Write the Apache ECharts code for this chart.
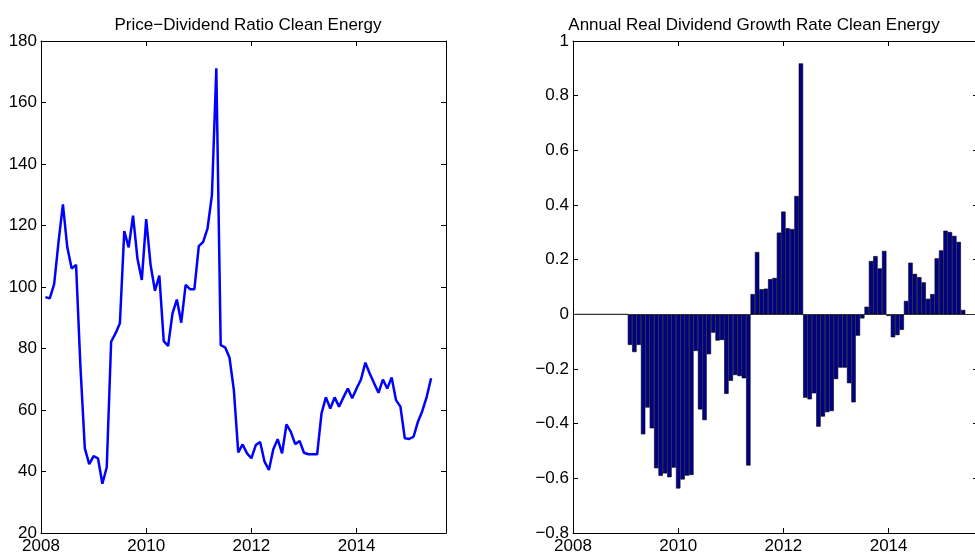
<!DOCTYPE html>
<html>
<head>
<meta charset="UTF-8">
<title>Clean Energy</title>
<script src="https://cdn.jsdelivr.net/npm/echarts@6/dist/echarts.min.js"></script>
<style>
  html, body { margin: 0; padding: 0; background: #fff; }
  #main { width: 975px; height: 556px; }
</style>
</head>
<body>
<div id="main"></div>
<script>
// monthly observations, first one at 2008 + 1/12
var firstYear = 2008;
var nMonths = 89;

// price-dividend ratio
var pdRatio = [
  96.7, 96.3, 100.9, 114.7, 126.9, 112.9, 106.0, 107.2, 74.0, 47.5,
  42.4, 45.0, 44.3, 36.0, 41.4, 82.2, 84.9, 88.2, 118.2, 112.9,
  123.2, 109.3, 102.3, 122.1, 107.2, 98.8, 103.7, 82.4, 80.8, 91.4,
  95.9, 88.4, 100.7, 99.3, 99.3, 113.3, 114.7, 119.1, 129.9, 171.1,
  81.1, 80.4, 77.1, 66.5, 46.2, 48.8, 45.9, 44.3, 48.6, 49.6,
  43.2, 40.5, 47.2, 50.5, 45.9, 55.3, 52.9, 48.9, 49.9, 46.1,
  45.6, 45.6, 45.6, 58.9, 64.1, 60.5, 64.1, 61.1, 64.1, 67.0,
  63.8, 67.0, 69.9, 75.4, 71.9, 68.7, 65.6, 69.9, 67.0, 70.6,
  63.2, 61.1, 50.8, 50.6, 51.3, 56.2, 59.7, 64.3, 70.3
];

// annual real dividend growth rate
var divGrowth = [
  0, 0, 0, 0, 0, 0, 0, 0, 0, 0,
  0, 0, -0.112, -0.138, -0.112, -0.439, -0.341, -0.417, -0.563, -0.591,
  -0.582, -0.596, -0.561, -0.637, -0.604, -0.590, -0.588, -0.134, -0.348, -0.387,
  -0.146, -0.067, -0.096, -0.094, -0.291, -0.243, -0.222, -0.226, -0.234, -0.553,
  0.074, 0.228, 0.092, 0.094, 0.129, 0.133, 0.299, 0.376, 0.315, 0.312,
  0.433, 0.918, -0.305, -0.311, -0.289, -0.411, -0.374, -0.358, -0.354, -0.237,
  -0.195, -0.195, -0.252, -0.322, -0.078, -0.015, 0.028, 0.195, 0.213, 0.168,
  0.232, -0.006, -0.084, -0.076, -0.057, 0.049, 0.189, 0.148, 0.136, 0.117,
  0.057, 0.074, 0.205, 0.234, 0.306, 0.301, 0.287, 0.265, 0.016
];

var dates = [];
for (var i = 0; i < nMonths; i++) {
  dates.push(firstYear + (i + 1) / 12);
}

var lineData = dates.map(function (d, i) { return [d, pdRatio[i]]; });
var barData = dates.map(function (d, i) { return [d, divGrowth[i]]; });

var font = 'Liberation Sans';
var fs = 17;

function numLabel(v) {
  return String(Math.round(v * 10) / 10).replace('-', '\u2212');
}

function xAxisPair(gi) {
  var base = {
    type: 'value', gridIndex: gi, min: 2008, max: 2015.7, interval: 2,
    splitLine: { show: false },
    axisLine: { show: true, onZero: false, lineStyle: { color: '#000', width: 1 } },
    axisTick: { show: true, inside: true, length: 5, lineStyle: { color: '#000' } }
  };
  var bottom = Object.assign({}, base, {
    position: 'bottom',
    axisLabel: {
      color: '#000', fontFamily: font, fontSize: fs, margin: 5,
      formatter: function (v) { return Number.isInteger(v) ? String(v) : ''; }
    }
  });
  var top = Object.assign({}, base, { position: 'top', axisLabel: { show: false } });
  return [bottom, top];
}

function yAxisPair(gi, min, max, step) {
  var base = {
    type: 'value', gridIndex: gi, min: min, max: max, interval: step,
    splitLine: { show: false },
    axisLine: { show: true, onZero: false, lineStyle: { color: '#000', width: 1 } },
    axisTick: { show: true, inside: true, length: 5, lineStyle: { color: '#000' } }
  };
  var left = Object.assign({}, base, {
    position: 'left',
    axisLabel: { color: '#000', fontFamily: font, fontSize: fs, margin: 4, formatter: numLabel }
  });
  var right = Object.assign({}, base, { position: 'right', axisLabel: { show: false } });
  return [left, right];
}

var chart = echarts.init(document.getElementById('main'));

var option = {
  animation: false,
  backgroundColor: '#fff',
  title: [{
    text: 'Price\u2212Dividend Ratio Clean Energy',
    left: 243, top: 12, textAlign: 'center',
    textStyle: { color: '#000', fontFamily: font, fontSize: fs, fontWeight: 'normal' }
  }, {
    text: 'Annual Real Dividend Growth Rate Clean Energy',
    left: 749, top: 12, textAlign: 'center',
    textStyle: { color: '#000', fontFamily: font, fontSize: fs, fontWeight: 'normal' }
  }],
  grid: [
    { left: 41, top: 41, width: 405, height: 492, outerBoundsMode: 'none', containLabel: false },
    { left: 573, top: 41, width: 405, height: 492, outerBoundsMode: 'none', containLabel: false }
  ],
  xAxis: xAxisPair(0).concat(xAxisPair(1)),
  yAxis: yAxisPair(0, 20, 180, 20).concat(yAxisPair(1, -0.8, 1, 0.2)),
  series: [{
    type: 'line',
    xAxisIndex: 0, yAxisIndex: 0,
    data: lineData,
    showSymbol: false,
    lineStyle: { color: '#0000ff', width: 2.5 },
    itemStyle: { color: '#0000ff' }
  }, {
    type: 'bar',
    xAxisIndex: 2, yAxisIndex: 2,
    data: barData,
    barWidth: 4.4,
    itemStyle: { color: '#00008f', borderColor: '#000', borderWidth: 0.6 },
    markLine: {
      silent: true, symbol: 'none', label: { show: false },
      lineStyle: { color: '#333', width: 1, type: 'solid' },
      data: [{ yAxis: 0 }]
    }
  }]
};

chart.setOption(option);
</script>
</body>
</html>
